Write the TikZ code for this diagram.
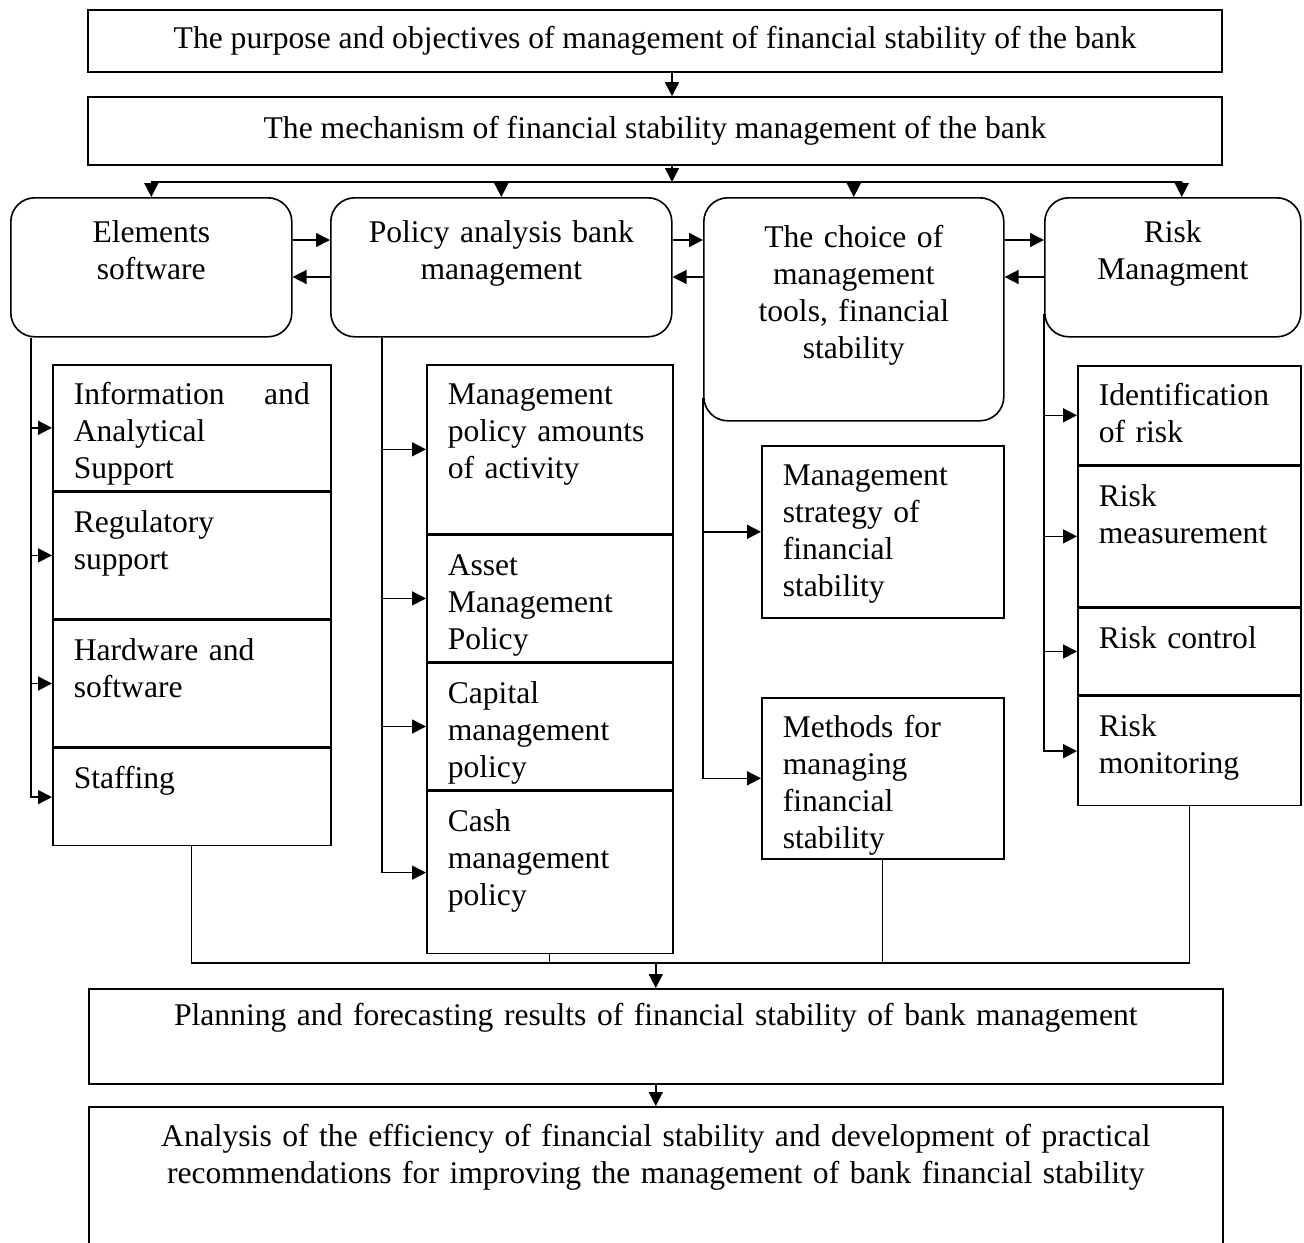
\documentclass[tikz,border=0pt]{standalone}
\usepackage{fontspec}
\setmainfont{Liberation Serif}
\usetikzlibrary
  {
    arrows.meta,  % filled arrow heads
    backgrounds,  % keep the connectors behind the boxes
  }

\begin{document}
\begin{tikzpicture}
    [
      x=0.5pt, y=-0.5pt,
      every node/.style={font=\fontsize{15.8}{18.5}\selectfont},
      wide/.style=
        {
          rectangle,
          draw,
          line width=0.8pt,
          minimum width=567pt,
          inner sep=0pt,
          align=center,
        },
      stage/.style=
        {
          rectangle,
          rounded corners=12pt,
          draw,
          line width=0.8pt,
          inner sep=0pt,
          align=center,
          anchor=north west,
          text height=22.5pt,
        },
      cell/.style=
        {
          rectangle,
          draw,
          line width=0.8pt,
          inner xsep=10.5pt,
          inner ysep=0pt,
          align=left,
          anchor=north west,
          text height=20pt,
        },
      link/.style={line width=0.8pt, -{Triangle[length=7pt,width=7pt]}},
      gather/.style={line width=0.6pt},
    ]
    \useasboundingbox (0,0) rectangle (1304,1242);

    % head of the scheme
    \node (purpose) [wide, minimum height=31pt] at (655,41)
      {The purpose and objectives of management of financial stability of the bank};
    \node (mechanism) [wide, minimum height=34pt] at (655,131)
      {The mechanism of financial stability management of the bank};

    % the four stages
    \node (elements) [stage, text width=140.5pt, text depth=47pt] at (10,197)
      {Elements\\software};
    \node (policy) [stage, text width=170.5pt, text depth=47pt] at (330,197)
      {Policy analysis bank\\management};
    \node (choice) [stage, text width=150pt, text height=25pt, text depth=86.5pt] at (703,197)
      {The choice of\\management\\tools, financial\\stability};
    \node (risk) [stage, text width=128pt, text depth=47pt] at (1044,197)
      {Risk\\Managment};

    % elements software
    \node (info) [cell, text width=118pt, text depth=43pt] at (52,364)
      {Information \hskip 0pt plus 1filll and\\Analytical\\Support};
    \node (regul) [cell, text width=118pt, text depth=43pt] at (info.south west)
      {Regulatory\\support};
    \node (hard) [cell, text width=118pt, text depth=43.5pt] at (regul.south west)
      {Hardware and\\software};
    \node (staff) [cell, text width=118pt, text depth=28.5pt] at (hard.south west)
      {Staffing};

    % policy analysis
    \node (amounts) [cell, text width=102pt, text depth=64.5pt] at (426,364)
      {Management\\policy amounts\\of activity};
    \node (asset) [cell, text width=102pt, text depth=43pt] at (amounts.south west)
      {Asset\\Management\\Policy};
    \node (capital) [cell, text width=102pt, text depth=43.5pt] at (asset.south west)
      {Capital\\management\\policy};
    \node (cash) [cell, text width=102pt, text depth=61pt] at (capital.south west)
      {Cash\\management\\policy};

    % tools
    \node (strat) [cell, text width=100pt, text depth=66pt] at (761,445)
      {Management\\strategy of\\financial\\stability};
    \node (methods) [cell, text width=100pt, text depth=60.5pt] at (761,697)
      {Methods for\\managing\\financial\\stability};

    % risk
    \node (ident) [cell, text width=90.5pt, text depth=29.5pt] at (1077,365)
      {Identification\\of risk};
    \node (measure) [cell, text width=90.5pt, text depth=50pt] at (ident.south west)
      {Risk\\measurement};
    \node (control) [cell, text width=90.5pt, text depth=23.5pt] at (measure.south west)
      {Risk control};
    \node (monit) [cell, text width=90.5pt, text depth=34.5pt] at (control.south west)
      {Risk\\monitoring};

    % result
    \node (planning) [wide, anchor=north west, text width=567pt, text height=18.5pt, text depth=29pt] at (88,988)
      {Planning and forecasting results of financial stability of bank management};
    \node (analysis) [wide, anchor=north west, text width=567pt, text height=20pt, text depth=55pt] at (88,1106)
      {Analysis of the efficiency of financial stability and development of practical\\recommendations for improving the management of bank financial stability};

    % connectors
    \coordinate (bus) at (0,182);
    \coordinate (fwd) at (0,240);
    \coordinate (back) at (0,277);
    \coordinate (gather) at (0,963);
    \coordinate (drop) at ([xshift=8.5pt]mechanism.south);
    \coordinate (riskin) at ([xshift=4.5pt]risk.north);
    \coordinate (ltop) at ([xshift=10.5pt]elements.south west);
    \coordinate (ptop) at ([xshift=26pt]policy.south west);
    \coordinate (ctop) at ([yshift=12pt]choice.south west);
    \coordinate (rtop) at ([yshift=12pt]risk.south west);

    \draw [link] ([xshift=8.5pt]purpose.south) -- ([xshift=8.5pt]mechanism.north);
    \draw [link] (drop) -- (drop |- bus);
    \draw [line width=0.8pt] (elements.north |- bus) -- (riskin |- bus);
    \foreach \s in {elements, policy, choice}
      \draw [link] (\s.north |- bus) -- (\s.north);
    \draw [link] (riskin |- bus) -- (riskin);

    \draw [link] (elements.east |- fwd) -- (policy.west |- fwd);
    \draw [link] (policy.west |- back) -- (elements.east |- back);
    \draw [link] (policy.east |- fwd) -- (choice.west |- fwd);
    \draw [link] (choice.west |- back) -- (policy.east |- back);
    \draw [link] (choice.east |- fwd) -- (risk.west |- fwd);
    \draw [link] (risk.west |- back) -- (choice.east |- back);

    \draw [link] (ltop) |- (staff.west);
    \foreach \c in {info, regul, hard}
      \draw [link] (ltop |- \c.west) -- (\c.west);
    \draw [link] (ptop) |- (cash.west);
    \foreach \c in {amounts, asset, capital}
      \draw [link] (ptop |- \c.west) -- (\c.west);
    \draw [link] (ctop) |- (methods.west);
    \draw [link] (ctop |- strat.west) -- (strat.west);
    \draw [link] (rtop) |- (monit.west);
    \foreach \c in {ident, measure, control}
      \draw [link] (rtop |- \c.west) -- (\c.west);

    \draw [gather] (staff.south) -- (staff.south |- gather) -- (monit.south |- gather) -- (monit.south);
    \draw [gather] (cash.south) -- (cash.south |- gather);
    \draw [gather] (methods.south) -- (methods.south |- gather);
    \draw [link] (planning.north |- gather) -- (planning.north);
    \draw [link] (planning.south) -- (analysis.north);
  \end{tikzpicture}
\end{document}
